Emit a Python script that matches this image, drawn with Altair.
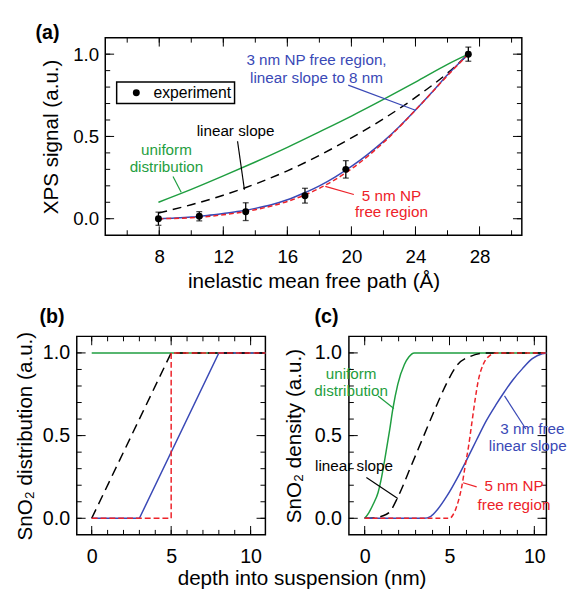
import altair as alt
import pandas as pd

FONT = "Liberation Sans"
GREEN = "#1f9e40"
BLUE = "#3a49b6"
RED = "#ed2229"
BLACK = "#000000"

# ---------------- panel (a) data ----------------
exp_x = [7.95, 10.5, 13.4, 17.1, 19.65, 27.3]
exp_y = [0.0, 0.015, 0.043, 0.14, 0.30, 1.0]
exp_err = [0.04, 0.028, 0.054, 0.045, 0.053, 0.043]

a_uni_x = [7.95, 10, 12, 14, 16, 18, 20, 22, 24, 26, 27.3]
a_uni_y = [0.10, 0.178, 0.26, 0.345, 0.434, 0.528, 0.624, 0.725, 0.83, 0.938, 1.0]
a_lin_x = [7.95, 10, 12, 14, 16, 18, 20, 22, 24, 26, 27.3]
a_lin_y = [0.035, 0.085, 0.143, 0.211, 0.291, 0.385, 0.491, 0.607, 0.737, 0.885, 1.0]
a_np3_x = [7.95, 9, 10, 11, 12, 13, 14, 15, 16, 17, 18, 19, 20, 21, 22, 23, 24, 25, 26, 27.3]
a_np3_y = [0.0, 0.004, 0.01, 0.02, 0.032, 0.045, 0.063, 0.085, 0.115, 0.155, 0.2, 0.255,
           0.318, 0.39, 0.47, 0.56, 0.66, 0.765, 0.875, 1.0]
a_np5_x = [7.95, 10, 12, 14, 16, 18, 20, 22, 24, 26, 27.3]
a_np5_y = [0.0, 0.006, 0.024, 0.055, 0.105, 0.185, 0.303, 0.463, 0.66, 0.87, 1.0]

a_x_major = [8, 12, 16, 20, 24, 28]
a_x_minor = [6, 8, 10, 12, 14, 16, 18, 20, 22, 24, 26, 28, 30]
y_major = [0.0, 0.5, 1.0]
y_minor = [0.0, 0.1, 0.2, 0.3, 0.4, 0.5, 0.6, 0.7, 0.8, 0.9, 1.0]

a_txt = ["3 nm NP free region,", "linear slope to 8 nm", "linear slope", "uniform",
         "distribution", "5 nm NP", "free region"]
a_txt_x = [17.82, 17.82, 12.77, 8.45, 8.45, 22.5, 22.5]
a_txt_y = [0.967, 0.852, 0.534, 0.415, 0.316, 0.137, 0.0375]
a_txt_c = [BLUE, BLUE, BLACK, GREEN, GREEN, RED, RED]

a_ptr_x = [19.8, 12.89, 8.86, 18.37]
a_ptr_y = [0.812, 0.471, 0.256, 0.197]
a_ptr_x2 = [24.0, 13.32, 9.37, 20.15]
a_ptr_y2 = [0.659, 0.176, 0.161, 0.147]
a_ptr_c = [BLUE, BLACK, GREEN, RED]

# ---------------- panel (b) data ----------------
b_uni_x = [0, 10.93]
b_uni_y = [1, 1]
b_lin_x = [0, 5, 10.93]
b_lin_y = [0, 1, 1]
b_np3_x = [0, 3, 8, 10.93]
b_np3_y = [0, 0, 1, 1]
b_np5_x = [0, 5, 5, 10.93]
b_np5_y = [0, 0, 1, 1]

d_x_major = [0, 5, 10]
d_x_minor = [0, 1, 2, 3, 4, 5, 6, 7, 8, 9, 10]

# ---------------- panel (c) data ----------------
c_uni_x = [0, 0.25, 0.5, 0.79, 1.0, 1.18, 1.47, 1.66, 1.95, 2.34, 2.6, 2.92, 10.71]
c_uni_y = [0, 0.035, 0.085, 0.156, 0.25, 0.354, 0.533, 0.661, 0.81, 0.93, 0.975, 1.0, 1.0]
c_lin_x = [0, 0.5, 1.0, 1.47, 1.95, 2.73, 3.5, 4.27, 4.85, 5.44, 6.2, 7.2, 10.71]
c_lin_y = [0, 0.002, 0.012, 0.038, 0.127, 0.315, 0.503, 0.69, 0.82, 0.925, 0.978, 1.0, 1.0]
c_np3_x = [0, 3.5, 3.9, 4.27, 4.85, 5.44, 6.02, 6.6, 7.18, 7.76, 8.24, 8.72, 9.3, 9.88, 10.46, 10.71]
c_np3_y = [0, 0, 0.012, 0.05, 0.135, 0.24, 0.355, 0.475, 0.592, 0.69, 0.765, 0.835, 0.905,
           0.965, 0.995, 1.0]
c_np5_x = [0, 5.0, 5.2, 5.44, 5.73, 5.92, 6.12, 6.31, 6.5, 6.69, 6.98, 7.37, 7.76, 10.71]
c_np5_y = [0, 0, 0.02, 0.077, 0.196, 0.315, 0.434, 0.572, 0.711, 0.83, 0.929, 0.984, 1.0, 1.0]

c_txt = ["uniform", "distribution", "linear slope", "5 nm NP", "free region"]
c_txt_x = [-0.8, -0.8, -0.63, 8.8, 8.8]
c_txt_y = [0.875, 0.768, 0.314, 0.192, 0.082]
c_txt_c = [GREEN, GREEN, BLACK, RED, RED]
c_txt_left = ["3 nm free", "linear slope"]
c_txt_left_x = [7.99, 7.32]
c_txt_left_y = [0.537, 0.436]

c_ptr_x = [0.79, 0.1, 8.24, 5.8]
c_ptr_y = [0.739, 0.246, 0.74, 0.215]
c_ptr_x2 = [1.72, 1.95, 9.5, 6.6]
c_ptr_y2 = [0.664, 0.12, 0.54, 0.19]
c_ptr_c = [GREEN, BLACK, BLUE, RED]

A_DX = [4.63, 30.64]
B_DX = [-0.94, 10.93]
C_DX = [-0.93, 10.71]
DY = [-0.1, 1.1]

MAJ, MIN = 9, 5
ONE = pd.DataFrame({"v": [0]})


def sc(dom):
    return alt.Scale(domain=dom, nice=False, zero=False)


def spacer(x, y):
    # invisible point that only fixes the layout extent of a panel
    return alt.Chart(ONE).mark_point(opacity=0, size=1, strokeWidth=0, filled=True).encode(
        x=alt.value(x), y=alt.value(y))


def label(text, x, y, fs=20, weight="bold"):
    return alt.Chart(pd.DataFrame({"t": [text]})).mark_text(
        font=FONT, fontSize=fs, fontWeight=weight, color=BLACK, align="left",
        baseline="alphabetic").encode(x=alt.value(x), y=alt.value(y), text="t:N")


def line_layer(xs, ys, dx, dy, color, dash=None, interp="monotone"):
    d = pd.DataFrame({"x": xs, "y": ys, "i": list(range(len(xs)))})
    kw = dict(color=color, strokeWidth=1.5, interpolate=interp, strokeCap="butt")
    if dash is not None:
        kw["strokeDash"] = dash
    return alt.Chart(d).mark_line(**kw).encode(
        x=alt.X("x:Q", scale=sc(dx), axis=None),
        y=alt.Y("y:Q", scale=sc(dy), axis=None),
        order=alt.Order("i:Q"),
    )


def text_layers(texts, xs, ys, colors, dx, dy, align="center", fs=15.5):
    d = pd.DataFrame({"t": texts, "x": xs, "y": ys, "c": colors})
    out = []
    for c in dict.fromkeys(colors):
        out.append(
            alt.Chart(d[d["c"] == c]).mark_text(
                font=FONT, fontSize=fs, color=c, align=align, baseline="middle"
            ).encode(
                x=alt.X("x:Q", scale=sc(dx), axis=None),
                y=alt.Y("y:Q", scale=sc(dy), axis=None),
                text="t:N",
            )
        )
    return out


def rule_layers(xs, ys, x2s, y2s, colors, dx, dy):
    d = pd.DataFrame({"x": xs, "y": ys, "x2": x2s, "y2": y2s, "c": colors})
    out = []
    for c in dict.fromkeys(colors):
        out.append(
            alt.Chart(d[d["c"] == c]).mark_rule(color=c, strokeWidth=1.2).encode(
                x=alt.X("x:Q", scale=sc(dx), axis=None),
                y=alt.Y("y:Q", scale=sc(dy), axis=None),
                x2="x2:Q",
                y2="y2:Q",
            )
        )
    return out


def frame_layers(dx, dy, W, H, xmaj, xmin, ymaj, ymin, xtitle, ytitle, lab_fs,
                 xlp, ylp, xtp, ytp):
    mid = pd.DataFrame({"x": [(dx[0] + dx[1]) / 2], "y": [(dy[0] + dy[1]) / 2]})
    base = alt.Chart(mid).mark_point(opacity=0, size=1, strokeWidth=0, filled=True)
    xkw = dict(orient="bottom", values=xmaj, format="d", ticks=False, tickSize=0, domain=False,
               grid=False, labelFont=FONT, labelFontSize=lab_fs, labelColor=BLACK,
               labelPadding=xlp, labelFlush=False, labelOverlap=False)
    if xtitle is not None:
        xkw.update(title=xtitle, titleFont=FONT, titleFontSize=21, titleFontWeight="normal",
                   titleColor=BLACK, titlePadding=xtp)
    else:
        xkw.update(title=None)
    ykw = dict(orient="left", values=ymaj, format=".1f", ticks=False, tickSize=0, domain=False,
               grid=False, labelFont=FONT, labelFontSize=lab_fs, labelColor=BLACK,
               labelPadding=ylp, labelFlush=False, labelOverlap=False,
               title=ytitle, titleFont=FONT, titleFontSize=21, titleFontWeight="normal",
               titleColor=BLACK, titlePadding=ytp)
    layers = [base.encode(
        x=alt.X("x:Q", scale=sc(dx), axis=alt.Axis(**xkw)),
        y=alt.Y("y:Q", scale=sc(dy), axis=alt.Axis(**ykw)),
    )]
    # inward tick marks on all four sides, positioned by the scales
    for vals, size in [(xmaj, MAJ), (xmin, MIN)]:
        dv = pd.DataFrame({"v": vals})
        for y0, y1 in [(H, H - size), (0, size)]:
            layers.append(alt.Chart(dv).mark_rule(color=BLACK, strokeWidth=1).encode(
                x=alt.X("v:Q", scale=sc(dx), axis=None),
                y=alt.value(y0), y2=alt.value(y1)))
    for vals, size in [(ymaj, MAJ), (ymin, MIN)]:
        dv = pd.DataFrame({"v": vals})
        for x0, x1 in [(0, size), (W, W - size)]:
            layers.append(alt.Chart(dv).mark_rule(color=BLACK, strokeWidth=1).encode(
                y=alt.Y("v:Q", scale=sc(dy), axis=None),
                x=alt.value(x0), x2=alt.value(x1)))
    return layers


# ---------------- build panel (a) ----------------
WA, HA = 424, 201
ed = pd.DataFrame({
    "x": exp_x, "y": exp_y,
    "lo": [y - e for y, e in zip(exp_y, exp_err)],
    "hi": [y + e for y, e in zip(exp_y, exp_err)],
    "s": ["experiment"] * len(exp_x),
})
ex = alt.X("x:Q", scale=sc(A_DX), axis=None)
err = alt.Chart(ed).mark_rule(color=BLACK, strokeWidth=1.3).encode(
    x=ex, y=alt.Y("lo:Q", scale=sc(DY), axis=None), y2="hi:Q")
cap_lo = alt.Chart(ed).mark_tick(orient="horizontal", size=6, thickness=1.3, color=BLACK).encode(
    x=ex, y=alt.Y("lo:Q", scale=sc(DY), axis=None))
cap_hi = alt.Chart(ed).mark_tick(orient="horizontal", size=6, thickness=1.3, color=BLACK).encode(
    x=ex, y=alt.Y("hi:Q", scale=sc(DY), axis=None))
pts = alt.Chart(ed).mark_point(filled=True, size=50, opacity=1, strokeWidth=0).encode(
    x=ex, y=alt.Y("y:Q", scale=sc(DY), axis=None),
    color=alt.Color("s:N", scale=alt.Scale(domain=["experiment"], range=[BLACK]),
                    legend=alt.Legend(orient="none", legendX=11.6, legendY=45, title=None,
                                      labelFont=FONT, labelFontSize=16, labelColor=BLACK,
                                      symbolType="circle", symbolSize=50, symbolStrokeWidth=0,
                                      padding=3, strokeColor=BLACK, fillColor="white",
                                      symbolOffset=9, labelOffset=9.5)))

layers_a = frame_layers(A_DX, DY, WA, HA, a_x_major, a_x_minor, y_major, y_minor,
                        "inelastic mean free path (Å)", "XPS signal (a.u.)", 19,
                        12.5, 6.7, 4.6, 11)
layers_a += [
    line_layer(a_uni_x, a_uni_y, A_DX, DY, GREEN),
    line_layer(a_lin_x, a_lin_y, A_DX, DY, BLACK, dash=[9, 6]),
    line_layer(a_np3_x, a_np3_y, A_DX, DY, BLUE),
    line_layer(a_np5_x, a_np5_y, A_DX, DY, RED, dash=[5, 3]),
    err, cap_lo, cap_hi, pts,
]
layers_a += rule_layers(a_ptr_x, a_ptr_y, a_ptr_x2, a_ptr_y2, a_ptr_c, A_DX, DY)
layers_a += text_layers(a_txt, a_txt_x, a_txt_y, a_txt_c, A_DX, DY)
layers_a += [label("(a)", -71, 1), spacer(0, -20), spacer(0, HA + 60)]

pa = alt.layer(*layers_a).resolve_axis(x="independent", y="independent").properties(
    width=WA, height=HA)

# invisible column that shifts panel (a) to the right of panel (b)
pad_col = alt.Chart(ONE).mark_point(opacity=0, size=1, strokeWidth=0, filled=True).encode(
    x=alt.value(-68.74), y=alt.value(100)
).properties(width=29, height=HA, view=alt.ViewBackground(stroke="transparent"))

# ---------------- build panel (b) ----------------
WB, HB = 192, 202
layers_b = frame_layers(B_DX, DY, WB, HB, d_x_major, d_x_minor, y_major, y_minor,
                        None, "SnO₂ distribution (a.u.)", 20, 12, 7.3, 0, 7)
layers_b += [
    line_layer(b_uni_x, b_uni_y, B_DX, DY, GREEN, interp="linear"),
    line_layer(b_np3_x, b_np3_y, B_DX, DY, BLUE, interp="linear"),
    line_layer(b_lin_x, b_lin_y, B_DX, DY, BLACK, dash=[10, 6], interp="linear"),
    line_layer(b_np5_x, b_np5_y, B_DX, DY, RED, dash=[6, 3], interp="linear"),
    label("(b)", -38, -14),
    label("depth into suspension (nm)", 102.7, 252.7, fs=21, weight="normal"),
    spacer(-68.74, -32), spacer(-68.74, HB / 2),
]
pb = alt.layer(*layers_b).resolve_axis(x="independent", y="independent").properties(
    width=WB, height=HB)

# ---------------- build panel (c) ----------------
WC, HC = 201, 202
layers_c = frame_layers(C_DX, DY, WC, HC, d_x_major, d_x_minor, y_major, y_minor,
                        None, "SnO₂ density (a.u.)", 20, 12, 7.6, 0, 9.5)
layers_c += [
    line_layer(c_uni_x, c_uni_y, C_DX, DY, GREEN),
    line_layer(c_lin_x, c_lin_y, C_DX, DY, BLACK, dash=[10, 6]),
    line_layer(c_np3_x, c_np3_y, C_DX, DY, BLUE),
    line_layer(c_np5_x, c_np5_y, C_DX, DY, RED, dash=[5, 3]),
]
layers_c += rule_layers(c_ptr_x, c_ptr_y, c_ptr_x2, c_ptr_y2, c_ptr_c, C_DX, DY)
layers_c += text_layers(c_txt, c_txt_x, c_txt_y, c_txt_c, C_DX, DY)
layers_c += text_layers(c_txt_left, c_txt_left_x, c_txt_left_y, [BLUE, BLUE], C_DX, DY, align="left")
layers_c += [label("(c)", -35, -14), spacer(0, -32)]
pc = alt.layer(*layers_c).resolve_axis(x="independent", y="independent").properties(
    width=WC, height=HC)

top = alt.hconcat(pad_col, pa, spacing=0, bounds="flush").resolve_scale(color="independent")
bottom = alt.hconcat(pb, pc, spacing=85, bounds="flush")

chart = alt.vconcat(top, bottom, spacing=7).resolve_scale(color="independent").properties(
    padding={"left": 0, "top": 3, "right": 0, "bottom": 0}
).configure_view(stroke=BLACK, strokeWidth=1.5).configure_axis(grid=False).configure_legend(
    strokeWidth=1.5
)

chart.save("out.html", embed_options={"renderer": "svg", "actions": False})
